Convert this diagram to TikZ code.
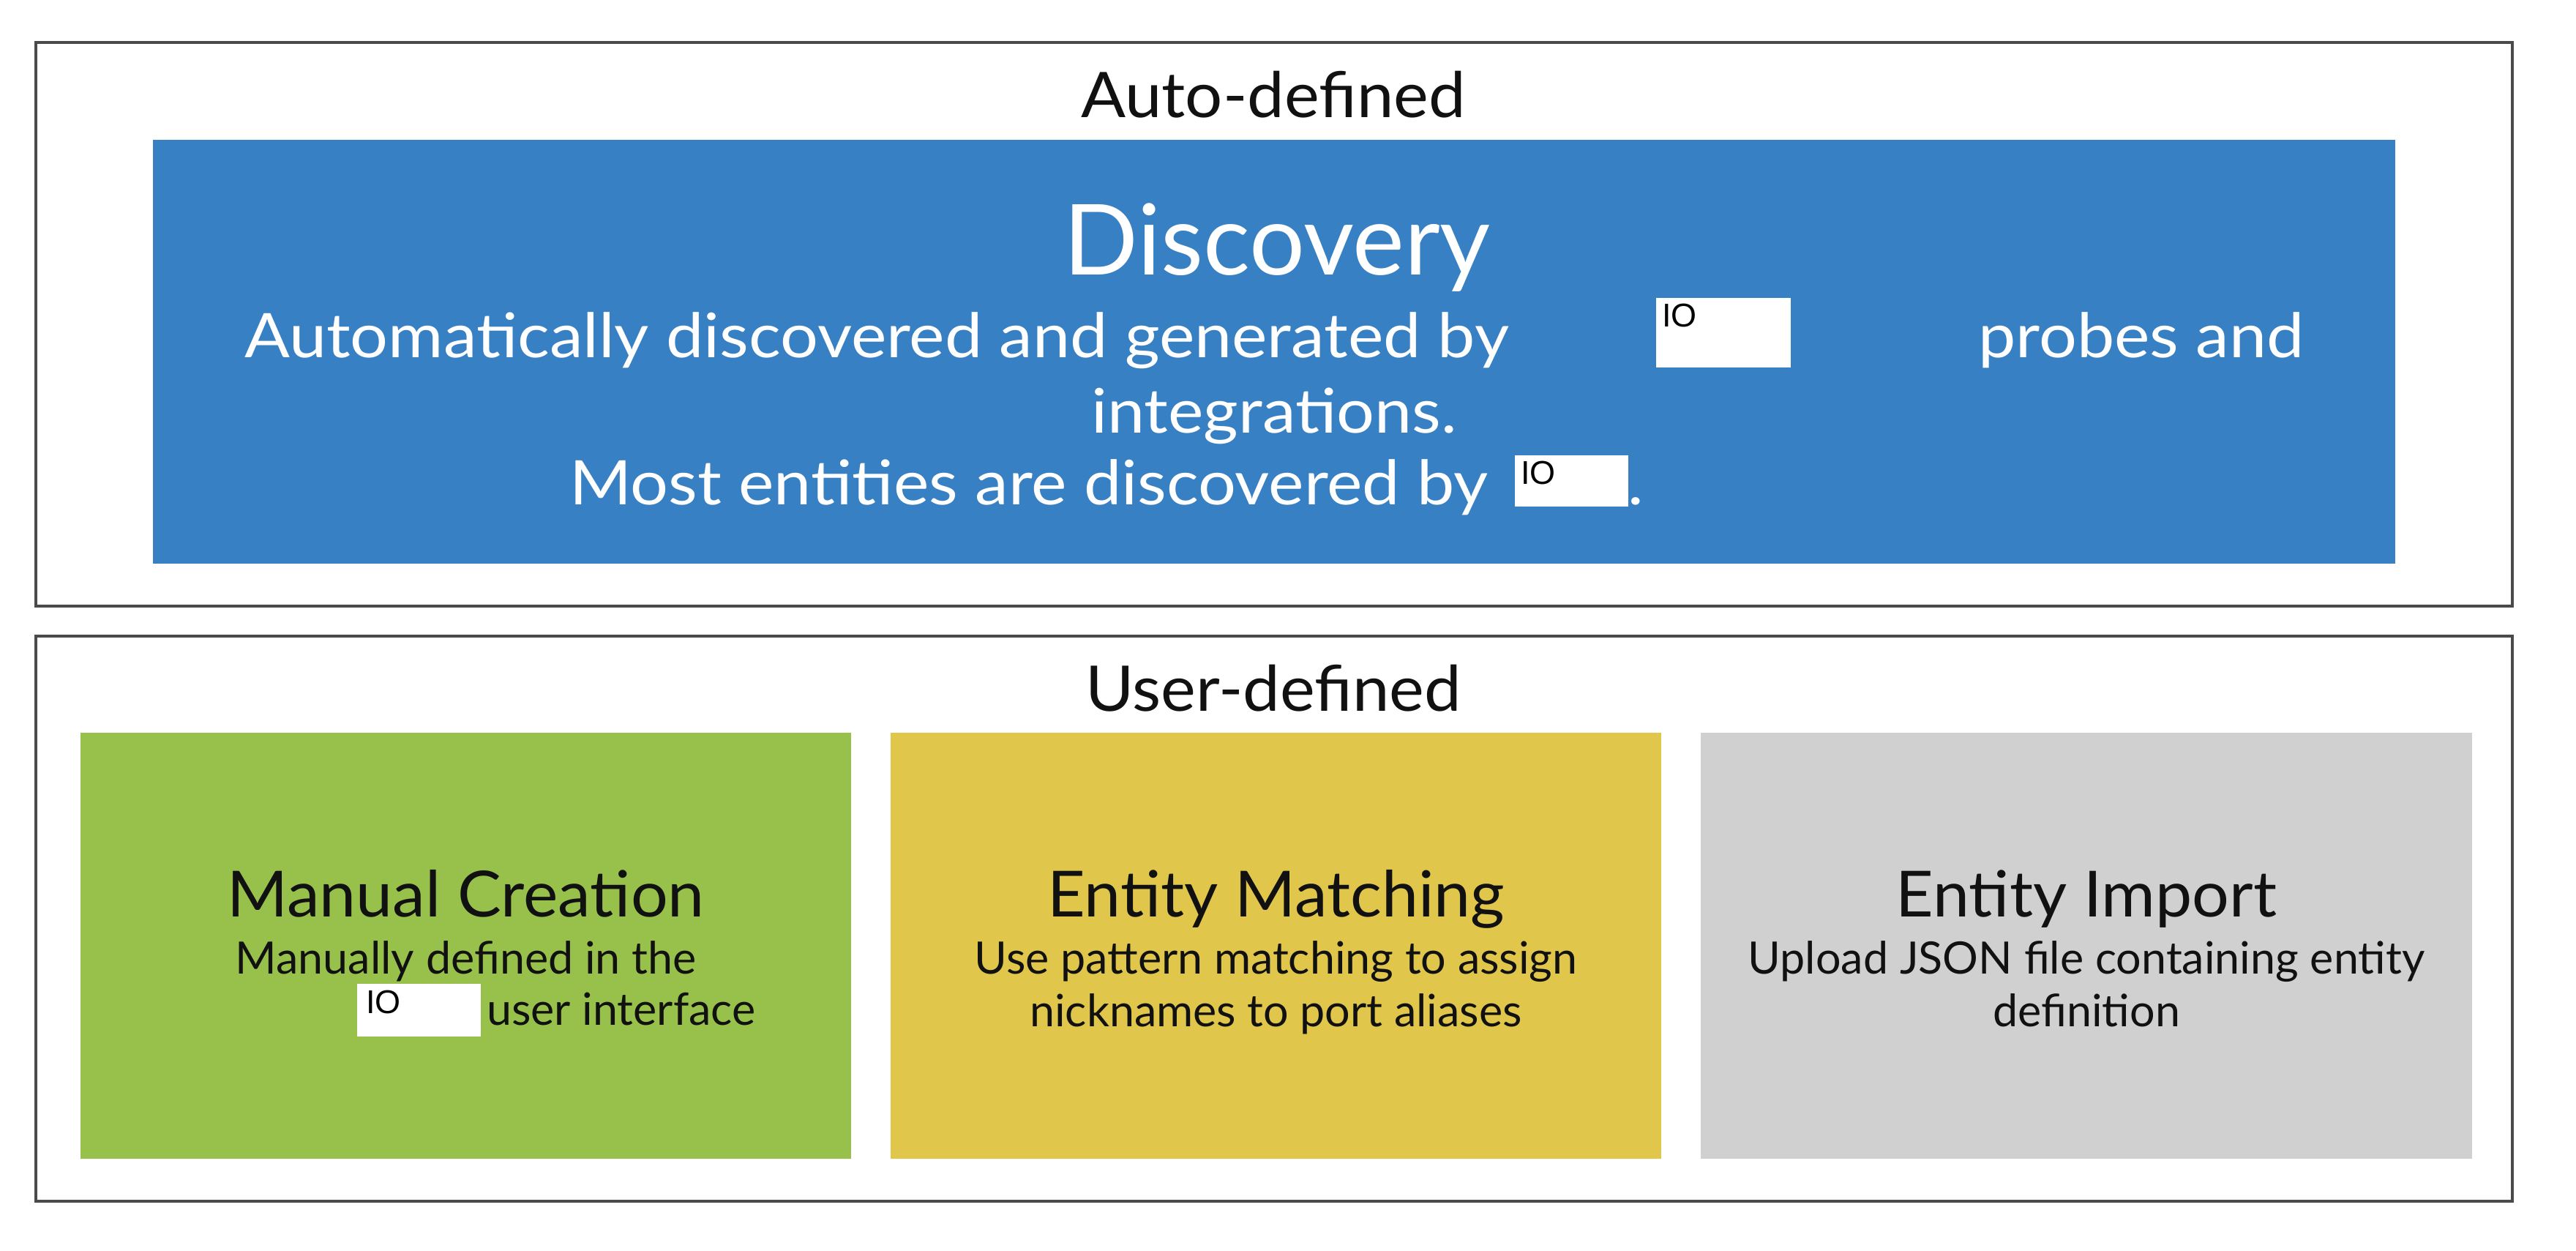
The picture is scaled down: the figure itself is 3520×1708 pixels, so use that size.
\documentclass[tikz,border=0pt]{standalone}
\usepackage{fontspec}
\setmainfont{Lato}
\newfontfamily\iofont{Liberation Sans}
\newfontfamily\widefont[FakeStretch=1.09]{Lato}
\newfontfamily\semiwidefont[FakeStretch=1.05]{Lato}
\newfontfamily\lightwidefont[FakeStretch=1.03]{Lato}
\definecolor{framegray}{HTML}{4A4A4A}
\definecolor{discblue}{HTML}{3880C4}
\definecolor{mangreen}{HTML}{97C14B}
\definecolor{matchyellow}{HTML}{E0C64A}
\definecolor{importgray}{HTML}{D0D0D0}
\definecolor{inktext}{HTML}{111111}
\tikzset{
  frame/.style={draw=framegray, line width=4.5pt, fill=white, inner sep=0pt},
  panel/.style={draw=none, inner sep=0pt},
  secttitle/.style={anchor=base, inner sep=0pt, text=inktext, font={\semiwidefont\fontsize{86pt}{100pt}\selectfont}},
  disctitle/.style={anchor=base, inner sep=0pt, text=white, font={\fontsize{134pt}{150pt}\selectfont}},
  discbody/.style={anchor=base, inner sep=0pt, text=white, font={\widefont\fontsize{84pt}{100pt}\selectfont}},
  boxtitle/.style={anchor=base, inner sep=0pt, text=inktext, font={\lightwidefont\fontsize{87pt}{100pt}\selectfont}},
  boxbody/.style={anchor=base, inner sep=0pt, text=inktext, font={\fontsize{61pt}{72pt}\selectfont}},
  redact/.style={fill=white, draw=none, inner sep=0pt},
  iotext/.style={anchor=north west, inner sep=0pt, text=black, font={\iofont\fontsize{45pt}{50pt}\selectfont}},
}
\begin{document}
\begin{tikzpicture}[x=1pt,y=-1pt]
\useasboundingbox[fill=white] (0,0) rectangle (3520,1708);

% outer frames
\node[frame, minimum width=3384pt, minimum height=770pt] (autoframe) at (1741,443) {};
\node[frame, minimum width=3384pt, minimum height=772pt] (userframe) at (1741,1255) {};

\node[secttitle] (autotitle) at (1740,160) {Auto-defined};
\node[secttitle] (usertitle) at (1740,971) {User-defined};

% discovery panel
\node[panel, fill=discblue, minimum width=3064pt, minimum height=579pt] (disc) at (1741,480.5) {};
\node[disctitle] (disct) at (1745,375) {Discovery};
\node[discbody, anchor=base west] (discl1a) at (334,488) {Automatically discovered and generated by};
\node[redact, minimum width=184pt, minimum height=95pt] (io1) at (2355,454.5) {};
\node[iotext] (io1t) at (2271,415) {IO};
\node[discbody, anchor=base west] (discl1b) at (2703,488) {probes and};
\node[discbody] (discl2) at (1741,591) {integrations.};
\node[discbody, anchor=base east] (discl3a) at (2034,689) {Most entities are discovered by};
\node[redact, minimum width=155pt, minimum height=70pt] (io2) at (2147.5,657) {};
\node[iotext] (io2t) at (2078,630) {IO};
\node[discbody, anchor=base west] (discl3b) at (2224,689) {.};

% user-defined panels
\node[panel, fill=mangreen, minimum width=1053pt, minimum height=582pt] (manual) at (636.5,1292) {};
\node[panel, fill=matchyellow, minimum width=1053pt, minimum height=582pt] (match) at (1743.5,1292) {};
\node[panel, fill=importgray, minimum width=1054pt, minimum height=582pt] (import) at (2851,1292) {};

\node[boxtitle] (manualt) at (636.5,1252) {Manual Creation};
\node[boxbody] (manualb1) at (636.5,1330) {Manually defined in the};
\node[redact, minimum width=169pt, minimum height=72pt] (io3) at (572.5,1380) {};
\node[iotext] (io3t) at (500,1353) {IO};
\node[boxbody, anchor=base west] (manualb2) at (665,1400) {user interface};

\node[boxtitle] (matcht) at (1743.5,1252) {Entity Matching};
\node[boxbody] (matchb1) at (1743.5,1330) {Use pattern matching to assign};
\node[boxbody] (matchb2) at (1743.5,1402) {nicknames to port aliases};

\node[boxtitle] (importt) at (2851,1252) {Entity Import};
\node[boxbody] (importb1) at (2851,1330) {Upload JSON file containing entity};
\node[boxbody] (importb2) at (2851,1402) {definition};
\end{tikzpicture}
\end{document}
